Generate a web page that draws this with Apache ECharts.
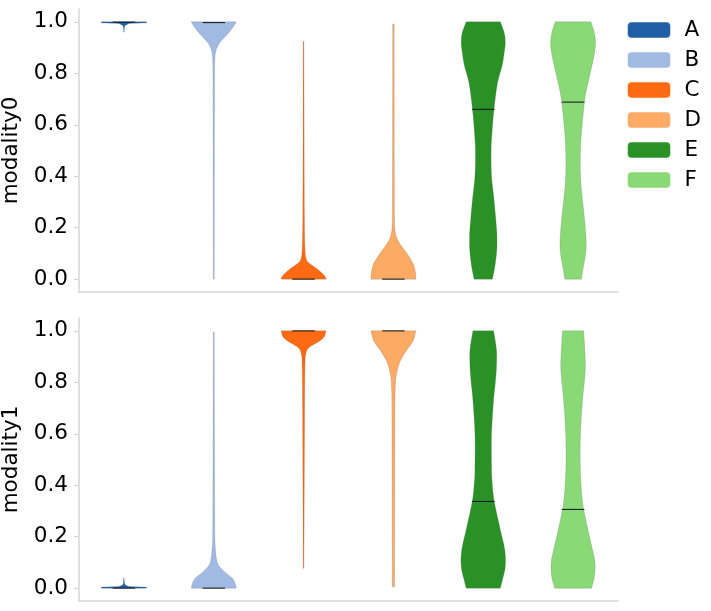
<!DOCTYPE html>
<html>
<head>
<meta charset="utf-8">
<script src="https://cdn.jsdelivr.net/npm/echarts@6/dist/echarts.min.js"></script>
<style>
  html, body { margin: 0; padding: 0; background: #fff; }
  #chart { width: 711px; height: 611px; }
</style>
</head>
<body>
<div id="chart"></div>
<script>
const categories = ['A', 'B', 'C', 'D', 'E', 'F'];
const colors = ['#1f5fa6', '#a0bae3', '#fe6a12', '#fdaa64', '#2a9126', '#8ad977'];
const yTicks = [0, 0.2, 0.4, 0.6, 0.8, 1.0];
const panelNames = ['modality0', 'modality1'];

// medians per violin
const medians0 = [0.999, 0.997, 0.0, 0.0, 0.66, 0.688];
const medians1 = [0.0, 0.0, 1.0, 1.0, 0.337, 0.306];

// density outlines: [value, relative width] (1 = widest violin)
const m0A = [[1.0, 1.0], [0.996, 0.95], [0.994, 0.3], [0.99, 0.15], [0.985, 0.05], [0.975, 0.02], [0.96, 0.008]];
const m0B = [[1.0, 1.0], [0.985, 0.9], [0.97, 0.78], [0.955, 0.64], [0.94, 0.48], [0.925, 0.32], [0.91, 0.2],
  [0.895, 0.12], [0.88, 0.08], [0.86, 0.05], [0.8, 0.035], [0.6, 0.03], [0.3, 0.025], [0.0, 0.02]];
const m0C = [[0, 1.0], [0.01, 0.96], [0.02, 0.86], [0.03, 0.74], [0.04, 0.6], [0.05, 0.44], [0.06, 0.28], [0.07, 0.16],
  [0.085, 0.1], [0.1, 0.075], [0.15, 0.05], [0.25, 0.035], [0.5, 0.025], [0.924, 0.015]];
const m0D = [[0, 1.0], [0.02, 0.99], [0.04, 0.95], [0.06, 0.88], [0.08, 0.75], [0.1, 0.6], [0.12, 0.43], [0.14, 0.27],
  [0.16, 0.15], [0.18, 0.09], [0.2, 0.06], [0.25, 0.045], [0.4, 0.04], [0.7, 0.035], [0.992, 0.03]];
const m0E = [[0, 0.41], [0.05, 0.52], [0.11, 0.6], [0.16, 0.61], [0.2, 0.59], [0.31, 0.48], [0.4, 0.37], [0.5, 0.35],
  [0.58, 0.4], [0.66, 0.48], [0.76, 0.63], [0.83, 0.84], [0.878, 0.93], [0.917, 0.98], [0.956, 0.94], [1.0, 0.76]];
const m0F = [[0, 0.37], [0.048, 0.46], [0.1, 0.56], [0.152, 0.58], [0.242, 0.5], [0.307, 0.42], [0.37, 0.35], [0.437, 0.32],
  [0.5, 0.33], [0.568, 0.37], [0.697, 0.52], [0.76, 0.66], [0.826, 0.83], [0.87, 0.94], [0.917, 1.0], [0.956, 0.95], [1.0, 0.8]];

const m1A = [[0, 1.0], [0.004, 0.95], [0.006, 0.3], [0.01, 0.12], [0.015, 0.04], [0.025, 0.02], [0.04, 0.008]];
const m1B = [[0, 1.0], [0.015, 0.96], [0.031, 0.89], [0.045, 0.74], [0.057, 0.56], [0.07, 0.4], [0.083, 0.26], [0.096, 0.17],
  [0.109, 0.13], [0.135, 0.09], [0.187, 0.05], [0.3, 0.04], [0.6, 0.03], [0.996, 0.02]];
const m1C = [[1.0, 1.0], [0.99, 0.97], [0.978, 0.93], [0.968, 0.82], [0.958, 0.67], [0.948, 0.47], [0.939, 0.3], [0.93, 0.19],
  [0.92, 0.13], [0.9, 0.08], [0.887, 0.07], [0.822, 0.055], [0.7, 0.045], [0.5, 0.035], [0.3, 0.025], [0.077, 0.015]];
const m1D = [[1.0, 1.0], [0.985, 0.96], [0.965, 0.9], [0.945, 0.76], [0.926, 0.6], [0.905, 0.45], [0.887, 0.33], [0.868, 0.24],
  [0.848, 0.18], [0.829, 0.13], [0.809, 0.1], [0.77, 0.08], [0.73, 0.07], [0.5, 0.06], [0.25, 0.055], [0.005, 0.05]];
const m1E = [[0, 0.76], [0.031, 0.85], [0.083, 0.98], [0.148, 0.96], [0.239, 0.73], [0.342, 0.48], [0.42, 0.39], [0.472, 0.37],
  [0.6, 0.37], [0.73, 0.46], [0.8, 0.54], [0.861, 0.59], [0.926, 0.59], [1.0, 0.46]];
const m1F = [[0, 0.82], [0.044, 0.95], [0.096, 0.98], [0.148, 0.87], [0.239, 0.63], [0.342, 0.41], [0.472, 0.32], [0.602, 0.33],
  [0.73, 0.42], [0.8, 0.5], [0.861, 0.55], [0.93, 0.52], [1.0, 0.47]];

const profiles = [[m0A, m0B, m0C, m0D, m0E, m0F], [m1A, m1B, m1C, m1D, m1E, m1F]];
const medians = [medians0, medians1];

const FONT = 'DejaVu Sans';
const FONT_SIZE = 21.5;
const AXIS_GRAY = '#d6d6d6';

// smooth outline through pixel points (Catmull-Rom), for drawing only
const smoothSide = (pts, cx, sign) => {
  if (pts.length < 3) return pts;
  const out = [];
  for (let i = 0; i < pts.length - 1; i++) {
    const p0 = pts[Math.max(i - 1, 0)], p1 = pts[i], p2 = pts[i + 1], p3 = pts[Math.min(i + 2, pts.length - 1)];
    for (let k = 0; k < 8; k++) {
      const t = k / 8, t2 = t * t, t3 = t2 * t;
      const f = (a, b, c, d) => 0.5 * (2 * b + (-a + c) * t + (2 * a - 5 * b + 4 * c - d) * t2 + (-a + 3 * b - 3 * c + d) * t3);
      let x = f(p0[0], p1[0], p2[0], p3[0]);
      const y = f(p0[1], p1[1], p2[1], p3[1]);
      if (sign > 0) x = Math.max(x, cx); else x = Math.min(x, cx);
      out.push([x, y]);
    }
  }
  out.push(pts[pts.length - 1]);
  return out;
};

const makeRenderer = (prof, med) => (params, api) => {
  const c = api.value(0);
  const band = api.size([1, 0])[0];
  const half = band * 0.25;
  const right = [];
  const left = [];
  let cx = 0;
  prof[c].forEach(([v, d]) => {
    const p = api.coord([c, v]);
    cx = p[0];
    right.push([p[0] + d * half, p[1]]);
    left.push([p[0] - d * half, p[1]]);
  });
  const r = smoothSide(right, cx, 1);
  const l = smoothSide(left, cx, -1).reverse();
  const m = api.coord([c, med[c]]);
  return {
    type: 'group',
    children: [
      {
        type: 'polygon',
        shape: { points: r.concat(l) },
        style: { fill: api.visual('color'), stroke: 'rgba(90,90,90,0.35)', lineWidth: 0.6 }
      },
      {
        type: 'line',
        shape: { x1: m[0] - half / 2, y1: m[1], x2: m[0] + half / 2, y2: m[1] },
        style: { stroke: '#111', lineWidth: 1 }
      }
    ]
  };
};

const grids = [
  { left: 79, top: 9, width: 539, height: 283, outerBoundsMode: 'none' },
  { left: 79, top: 318, width: 539, height: 283, outerBoundsMode: 'none' }
];

const xAxes = grids.map((g, i) => ({
  type: 'category',
  gridIndex: i,
  data: categories,
  boundaryGap: true,
  axisLine: { onZero: false, lineStyle: { color: AXIS_GRAY, width: 1.5 } },
  axisTick: { show: false },
  axisLabel: { show: false },
  splitLine: { show: false }
}));

const yAxes = grids.map((g, i) => ({
  type: 'value',
  gridIndex: i,
  min: -0.05,
  max: 1.05,
  name: panelNames[i],
  nameLocation: 'middle',
  nameGap: 46,
  nameTextStyle: { fontFamily: FONT, fontSize: FONT_SIZE, color: '#000' },
  axisLine: { show: true, lineStyle: { color: AXIS_GRAY, width: 1.5 } },
  axisTick: { show: true, length: 5, customValues: yTicks, lineStyle: { color: AXIS_GRAY, width: 1.2 } },
  axisLabel: {
    customValues: yTicks,
    margin: 11,
    fontFamily: FONT,
    fontSize: FONT_SIZE,
    color: '#000',
    formatter: (v) => v.toFixed(1)
  },
  splitLine: { show: false }
}));

const series = [];
[0, 1].forEach((p) => {
  categories.forEach((name, c) => {
    series.push({
      type: 'custom',
      name: name,
      xAxisIndex: p,
      yAxisIndex: p,
      color: colors[c],
      clip: false,
      silent: true,
      encode: { x: 0, y: 1 },
      data: [[c, medians[p][c]]],
      renderItem: makeRenderer(profiles[p], medians[p])
    });
  });
});

const chart = echarts.init(document.getElementById('chart'));
chart.setOption({
  animation: false,
  backgroundColor: '#fff',
  grid: grids,
  xAxis: xAxes,
  yAxis: yAxes,
  legend: {
    data: categories,
    orient: 'vertical',
    left: 622,
    top: 14,
    itemWidth: 43,
    itemHeight: 16,
    itemGap: 8,
    icon: 'roundRect',
    itemStyle: { borderColor: 'rgba(255,255,255,0.5)', borderWidth: 1 },
    textStyle: { fontFamily: FONT, fontSize: FONT_SIZE, color: '#000', lineHeight: 16, padding: [0, 0, 0, 9] }
  },
  series: series
});
</script>
</body>
</html>
